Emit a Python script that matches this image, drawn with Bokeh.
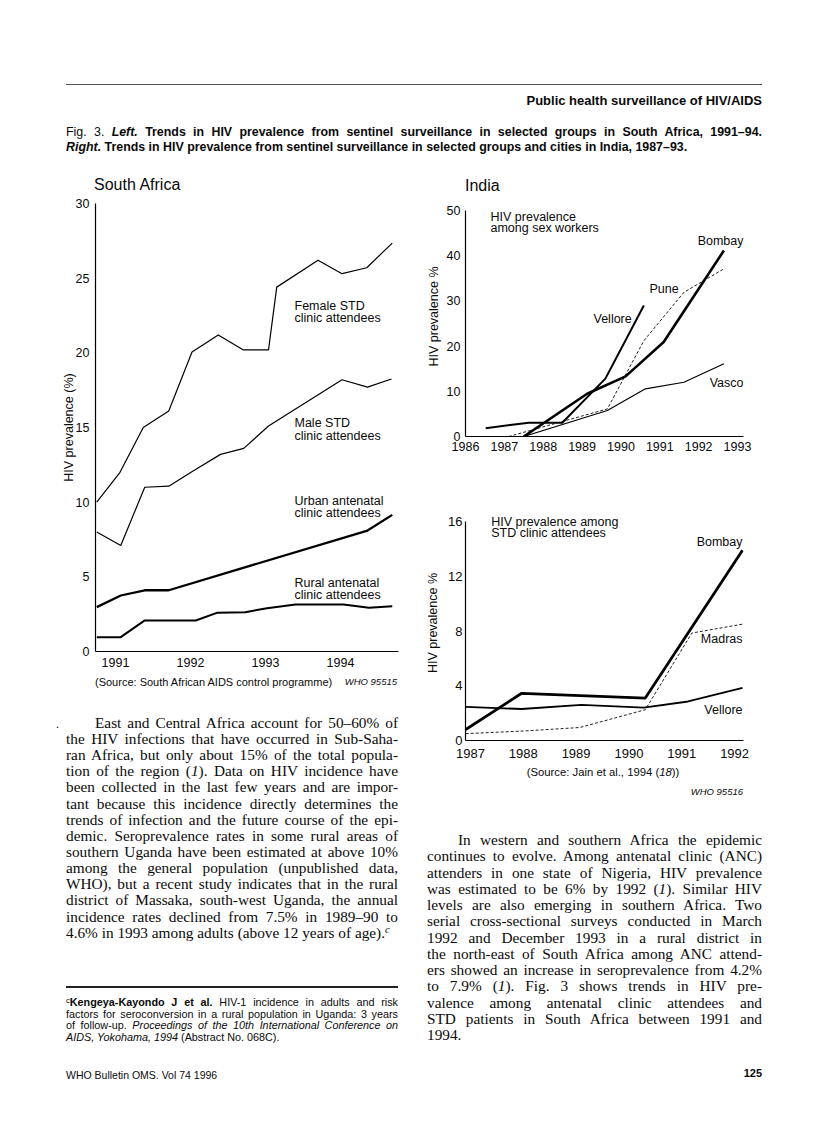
from bokeh.plotting import figure
from bokeh.models import Range1d, FixedTicker, Label, Div
from bokeh.layouts import column, row
from bokeh.embed import file_html
from bokeh.resources import INLINE

# ---------------- data ----------------
# South Africa, HIV prevalence (%) by fractional year
sa_years = [1991, 1992, 1993, 1994]
sa_yticks = [0, 5, 10, 15, 20, 25, 30]
sa_female_x = [1990.75, 1991.06, 1991.37, 1991.71, 1992.02, 1992.37, 1992.70, 1993.04, 1993.15, 1993.70, 1994.02, 1994.35, 1994.69]
sa_female_y = [10.0, 12.0, 15.0, 16.1, 20.05, 21.2, 20.2, 20.2, 24.4, 26.2, 25.3, 25.7, 27.35]
sa_male_x = [1990.75, 1991.07, 1991.39, 1991.71, 1992.04, 1992.40, 1992.71, 1993.04, 1994.02, 1994.36, 1994.68]
sa_male_y = [8.0, 7.1, 11.0, 11.07, 12.1, 13.2, 13.6, 15.1, 18.2, 17.7, 18.25]
sa_urban_x = [1990.75, 1991.07, 1991.39, 1991.71, 1994.36, 1994.69]
sa_urban_y = [2.97, 3.75, 4.1, 4.1, 8.1, 9.15]
sa_rural_x = [1990.75, 1991.07, 1991.39, 1991.71, 1992.07, 1992.36, 1992.73, 1993.02, 1993.40, 1994.04, 1994.38, 1994.69]
sa_rural_y = [0.95, 0.96, 2.08, 2.08, 2.08, 2.6, 2.63, 2.9, 3.15, 3.15, 2.93, 3.03]

# India, sex workers
sw_years = [1986, 1987, 1988, 1989, 1990, 1991, 1992, 1993]
sw_yticks = [0, 10, 20, 30, 40, 50]
sw_bombay_x = [1987.50, 1989.13, 1990.12, 1991.10, 1992.65]
sw_bombay_y = [0.0, 9.45, 13.3, 20.9, 41.15]
sw_vellore_x = [1986.52, 1987.63, 1988.49, 1989.60, 1990.59]
sw_vellore_y = [1.85, 3.05, 3.05, 12.8, 29.0]
sw_pune_x = [1987.11, 1989.65, 1990.59, 1991.62, 1992.65]
sw_pune_y = [0.0, 6.1, 21.2, 31.9, 37.1]
sw_vasco_x = [1987.50, 1989.65, 1990.63, 1991.62, 1992.65]
sw_vasco_y = [0.0, 5.75, 10.55, 12.0, 16.1]

# India, STD clinic attendees
std_years = [1987, 1988, 1989, 1990, 1991, 1992]
std_yticks = [0, 4, 8, 12, 16]
std_bombay_x = [1986.91, 1987.97, 1990.31, 1992.15]
std_bombay_y = [0.8, 3.45, 3.1, 13.9]
std_madras_x = [1986.91, 1988.04, 1989.07, 1990.31, 1991.19, 1992.15]
std_madras_y = [0.5, 0.7, 0.95, 2.25, 7.85, 8.5]
std_vellore_x = [1986.91, 1987.97, 1989.10, 1990.28, 1991.12, 1992.15]
std_vellore_y = [2.45, 2.3, 2.6, 2.4, 2.85, 3.85]

SANS = "Liberation Sans"
SERIF = "Liberation Serif"
INK = "#0a0a0a"


def make_chart(fig_box, frame_box, xr, yr, xticks, yticks, ybounds, ylabel, tick_size,
               x_standoff, y_standoff, lab_standoff):
    fx0, fy0, fx1, fy1 = fig_box
    lx, ty, rx, by = frame_box
    p = figure(width=fx1 - fx0, height=fy1 - fy0,
               x_range=Range1d(*xr), y_range=Range1d(*yr),
               output_backend="svg", toolbar_location=None,
               min_border_left=lx - fx0, min_border_right=fx1 - rx,
               min_border_top=ty - fy0, min_border_bottom=fy1 - by,
               margin=0)
    p.outline_line_color = None
    p.background_fill_color = "white"
    p.border_fill_color = "white"
    p.xgrid.visible = False
    p.ygrid.visible = False
    p.xaxis.ticker = FixedTicker(ticks=xticks)
    p.yaxis.ticker = FixedTicker(ticks=yticks)
    p.yaxis.bounds = ybounds
    for ax in (p.xaxis[0], p.yaxis[0]):
        ax.axis_line_color = "black"
        ax.axis_line_width = 1.2
        ax.major_tick_line_color = None
        ax.minor_tick_line_color = None
        ax.major_tick_out = 0
        ax.major_tick_in = 0
        ax.minor_tick_out = 0
        ax.minor_tick_in = 0
        ax.major_label_text_font = SANS
        ax.major_label_text_font_size = tick_size
        ax.major_label_text_color = INK
    p.xaxis.major_label_standoff = x_standoff
    p.yaxis.major_label_standoff = y_standoff
    p.yaxis.axis_label = ylabel
    p.yaxis.axis_label_text_font = SANS
    p.yaxis.axis_label_text_font_style = "normal"
    p.yaxis.axis_label_text_font_size = "12.5px"
    p.yaxis.axis_label_text_color = INK
    p.yaxis.axis_label_standoff = lab_standoff
    return p


def add_label(p, conv, px, py, text, align="left", size="12.5px"):
    x, y = conv(px, py)
    p.add_layout(Label(x=x, y=y, text=text, text_font=SANS, text_font_size=size,
                       text_color=INK, text_baseline="middle", text_align=align))


# ---------------- South Africa ----------------
SA_FIG = (0, 194, 412, 676)
SA_FRAME = (95, 203, 398, 651)
sa_conv = lambda px, py: (1991 + (px - 115) / 75.0, (651 - py) * 30.0 / 448.0)
sa = make_chart(SA_FIG, SA_FRAME, (sa_conv(95, 0)[0], sa_conv(398, 0)[0]), (0, 30),
                sa_years, sa_yticks, (0, 30), "HIV prevalence (%)", "12.5px", 6, 6, -3)
sa.line(sa_female_x, sa_female_y, line_color="black", line_width=1.2)
sa.line(sa_male_x, sa_male_y, line_color="black", line_width=1.2)
sa.line(sa_urban_x, sa_urban_y, line_color="black", line_width=2.3)
sa.line(sa_rural_x, sa_rural_y, line_color="black", line_width=2.0)
add_label(sa, sa_conv, 294, 305, "Female STD")
add_label(sa, sa_conv, 294, 317, "clinic attendees")
add_label(sa, sa_conv, 294, 422, "Male STD")
add_label(sa, sa_conv, 294, 435, "clinic attendees")
add_label(sa, sa_conv, 294, 500, "Urban antenatal")
add_label(sa, sa_conv, 294, 512, "clinic attendees")
add_label(sa, sa_conv, 294, 582, "Rural antenatal")
add_label(sa, sa_conv, 294, 594, "clinic attendees")

# ---------------- India: sex workers ----------------
SW_FIG = (412, 194, 808, 460)
SW_FRAME = (465, 196, 743, 436)
sw_conv = lambda px, py: (1986 + (px - 465) / 38.86, (436 - py) * 50.0 / 226.0)
sw = make_chart(SW_FIG, SW_FRAME, (1986, sw_conv(743, 0)[0]), (0, sw_conv(0, 196)[1]),
                sw_years, sw_yticks, (0, 50), "HIV prevalence %", "12.5px", 5, 5, 3)
sw.line(sw_vasco_x, sw_vasco_y, line_color="black", line_width=1.2)
sw.line(sw_pune_x, sw_pune_y, line_color="#222222", line_width=1.0, line_dash="3 2")
sw.line(sw_vellore_x, sw_vellore_y, line_color="black", line_width=2.0)
sw.line(sw_bombay_x, sw_bombay_y, line_color="black", line_width=2.6)
add_label(sw, sw_conv, 490, 216, "HIV prevalence")
add_label(sw, sw_conv, 490, 227, "among sex workers")
add_label(sw, sw_conv, 743, 240, "Bombay", align="right")
add_label(sw, sw_conv, 649, 288, "Pune")
add_label(sw, sw_conv, 593, 318, "Vellore")
add_label(sw, sw_conv, 743, 382, "Vasco", align="right")

# ---------------- India: STD clinic attendees ----------------
STD_FIG = (412, 460, 808, 764)
STD_FRAME = (463, 505, 744, 740)
std_conv = lambda px, py: (1987 + (px - 468) / 53.4, (740 - py) * 16.0 / 219.0)
std = make_chart(STD_FIG, STD_FRAME, (std_conv(463, 0)[0], std_conv(744, 0)[0]),
                 (0, std_conv(0, 505)[1]), std_years, std_yticks, (0, 16),
                 "HIV prevalence %", "13px", 8, 3, 5)
std.line(std_madras_x, std_madras_y, line_color="#222222", line_width=1.0, line_dash="3 2")
std.line(std_vellore_x, std_vellore_y, line_color="black", line_width=1.8)
std.line(std_bombay_x, std_bombay_y, line_color="black", line_width=2.8)
add_label(std, std_conv, 489, 521, "HIV prevalence among")
add_label(std, std_conv, 489, 532, "STD clinic attendees")
add_label(std, std_conv, 743, 541, "Bombay", align="right")
add_label(std, std_conv, 743, 638, "Madras", align="right")
add_label(std, std_conv, 743, 709, "Vellore", align="right")


# ---------------- text blocks ----------------
def tdiv(origin, left, cy, html, size, family=SANS, weight="normal", style="normal",
         width=None, align="left", justify=False, lh=None):
    ox, oy = origin
    if lh is None:
        lh = round(size * 1.3)
    top = cy - oy - lh / 2.0
    css = ("position:absolute;left:%.1fpx;top:%.1fpx;font-family:'%s';font-size:%spx;"
           "font-weight:%s;font-style:%s;line-height:%spx;color:%s;margin:0;padding:0;"
           % (left - ox, top, family, size, weight, style, lh, INK))
    if width is not None:
        css += "width:%spx;" % width
    else:
        css += "white-space:nowrap;"
    if justify:
        css += "text-align:justify;text-align-last:justify;"
    else:
        css += "text-align:%s;" % align
    return '<div style="%s">%s</div>' % (css, html)


def rule(origin, left, y, width, h, color="#222"):
    ox, oy = origin
    return ('<div style="position:absolute;left:%.1fpx;top:%.1fpx;width:%spx;height:%spx;background:%s"></div>'
            % (left - ox, y - oy - h / 2.0, width, h, color))


def box(w, h, inner):
    return ('<div style="position:relative;width:%dpx;height:%dpx;overflow:visible">%s</div>'
            % (w, h, "".join(inner)))


SUP = '<span style="font-size:70%;vertical-align:0.45em;line-height:0">'

# header
HO = (0, 0)
hdr = [
    rule(HO, 66, 84, 696, 1.0, "#555"),
    tdiv(HO, 66, 100, "Public health surveillance of HIV/AIDS", 13, weight="bold",
         width=696, align="right"),
    tdiv(HO, 66, 132, 'Fig. 3. <b><i>Left.</i> Trends in HIV prevalence from sentinel surveillance '
         'in selected groups in South Africa, 1991–94.</b>', 12.4, width=696, justify=True),
    tdiv(HO, 66, 147, '<b><i>Right.</i> Trends in HIV prevalence from sentinel surveillance in '
         'selected groups and cities in India, 1987–93.</b>', 12.4),
    tdiv(HO, 94, 185, "South Africa", 16, lh=18),
    tdiv(HO, 465, 186, "India", 16, lh=18),
]
header_div = Div(text=box(808, 194, hdr), width=808, height=194, margin=0)

left_lines = [
    "East and Central Africa account for 50–60% of",
    "the HIV infections that have occurred in Sub-Saha-",
    "ran Africa, but only about 15% of the total popula-",
    "tion of the region (<i>1</i>). Data on HIV incidence have",
    "been collected in the last few years and are impor-",
    "tant because this incidence directly determines the",
    "trends of infection and the future course of the epi-",
    "demic. Seroprevalence rates in some rural areas of",
    "southern Uganda have been estimated at above 10%",
    "among the general population (unpublished data,",
    "WHO), but a recent study indicates that in the rural",
    "district of Massaka, south-west Uganda, the annual",
    "incidence rates declined from 7.5% in 1989–90 to",
    "4.6% in 1993 among adults (above 12 years of age)." + SUP + "<i>c</i></span>",
]
right_lines = [
    "In western and southern Africa the epidemic",
    "continues to evolve. Among antenatal clinic (ANC)",
    "attenders in one state of Nigeria, HIV prevalence",
    "was estimated to be 6% by 1992 (<i>1</i>). Similar HIV",
    "levels are also emerging in southern Africa. Two",
    "serial cross-sectional surveys conducted in March",
    "1992 and December 1993 in a rural district in",
    "the north-east of South Africa among ANC attend-",
    "ers showed an increase in seroprevalence from 4.2%",
    "to 7.9% (<i>1</i>). Fig. 3 shows trends in HIV pre-",
    "valence among antenatal clinic attendees and",
    "STD patients in South Africa between 1991 and",
    "1994.",
]
fn_lines = [
    SUP + "c</span><b>Kengeya-Kayondo J et al.</b> HIV-1 incidence in adults and risk",
    "factors for seroconversion in a rural population in Uganda: 3 years",
    "of follow-up. <i>Proceedings of the 10th International Conference on</i>",
    "<i>AIDS, Yokohama, 1994</i> (Abstract No. 068C).",
]


def paragraph(origin, lines, left, width, indent, cy0, step, size):
    out = []
    n = len(lines)
    for i, ln in enumerate(lines):
        l = left + (indent if i == 0 else 0)
        w = width - (indent if i == 0 else 0)
        out.append(tdiv(origin, l, cy0 + i * step, ln, size, family=SERIF, width=w,
                        justify=(i < n - 1), lh=16))
    return out


LO = (0, 676)
left_items = [
    tdiv(LO, 95, 682, "(Source: South African AIDS control programme)", 11),
    tdiv(LO, 297, 682, "WHO 95515", 9.5, style="italic", width=100, align="right"),
    tdiv(LO, 56, 724, ".", 12, family=SERIF),
]
left_items += paragraph(LO, left_lines, 66, 332, 29, 722.7, 16.15, 15.3)
left_items.append(rule(LO, 66, 987, 332, 1.4, "#222"))
for i, ln in enumerate(fn_lines):
    left_items.append(tdiv(LO, 66, 1002 + i * 11.7, ln, 10.8, width=332,
                           justify=(i < len(fn_lines) - 1), lh=12))
left_items.append(tdiv(LO, 66, 1075, "WHO Bulletin OMS. Vol 74 1996", 10.5))
left_div = Div(text=box(412, 438, left_items), width=412, height=438, margin=0)

RO = (412, 764)
right_items = [
    tdiv(RO, 453, 772, "(Source: Jain et al., 1994 (<i>18</i>))", 11.3, width=300, align="center"),
    tdiv(RO, 643, 792, "WHO 95516", 9.5, style="italic", width=100, align="right"),
]
right_items += paragraph(RO, right_lines, 427, 335, 31, 840, 16.25, 15.3)
right_items.append(tdiv(RO, 662, 1073, "125", 11, weight="bold", width=100, align="right"))
right_div = Div(text=box(396, 350, right_items), width=396, height=350, margin=0)

left_col = column(sa, left_div, spacing=0, margin=0)
right_col = column(sw, std, right_div, spacing=0, margin=0)
page = column(header_div, row(left_col, right_col, spacing=0, margin=0), spacing=0, margin=0)

open("out.html", "w").write(file_html(page, INLINE))
